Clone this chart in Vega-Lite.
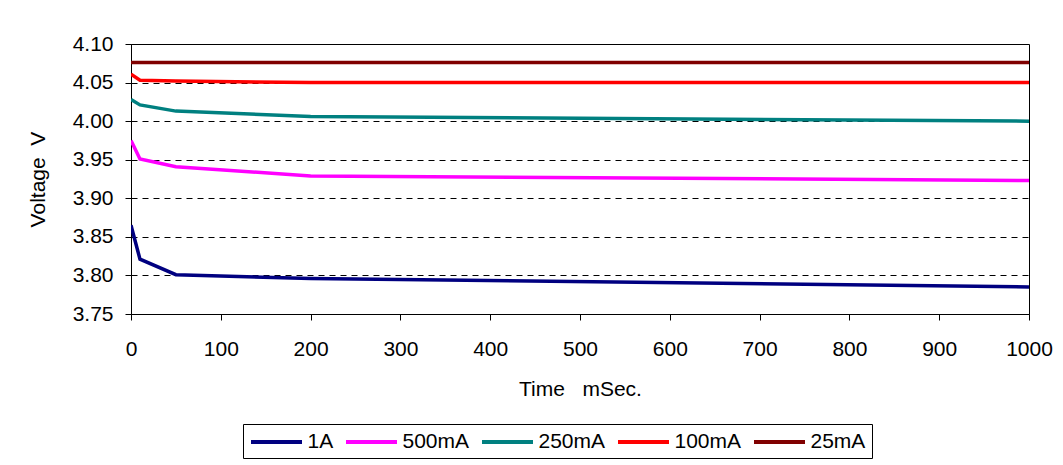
{
  "$schema": "https://vega.github.io/schema/vega-lite/v6.json",
  "width": 898,
  "height": 270,
  "autosize": {"type": "none"},
  "padding": {"left": 131, "top": 44, "right": 34, "bottom": 151},
  "background": "white",
  "config": {
    "font": "Liberation Sans",
    "view": {"stroke": "black", "strokeWidth": 1},
    "axis": {
      "labelFont": "Liberation Sans",
      "titleFont": "Liberation Sans",
      "labelFontSize": 21,
      "titleFontSize": 21,
      "titleFontWeight": "normal",
      "labelColor": "black",
      "titleColor": "black",
      "domainColor": "black",
      "tickColor": "black",
      "tickSize": 6,
      "labelFlush": false,
      "gridColor": "black",
      "gridDash": [6, 5],
      "gridWidth": 1,
      "gridOpacity": 1
    },
    "legend": {
      "labelFont": "Liberation Sans",
      "labelFontSize": 21,
      "labelColor": "black"
    }
  },
  "data": {
    "values": [
      {"series": "1A", "t": 0, "v": 3.865},
      {"series": "1A", "t": 10, "v": 3.821},
      {"series": "1A", "t": 50, "v": 3.801},
      {"series": "1A", "t": 200, "v": 3.796},
      {"series": "1A", "t": 1000, "v": 3.785},
      {"series": "500mA", "t": 0, "v": 3.975},
      {"series": "500mA", "t": 10, "v": 3.951},
      {"series": "500mA", "t": 50, "v": 3.941},
      {"series": "500mA", "t": 200, "v": 3.929},
      {"series": "500mA", "t": 1000, "v": 3.923},
      {"series": "250mA", "t": 0, "v": 4.028},
      {"series": "250mA", "t": 10, "v": 4.021},
      {"series": "250mA", "t": 50, "v": 4.013},
      {"series": "250mA", "t": 200, "v": 4.006},
      {"series": "250mA", "t": 1000, "v": 4.0},
      {"series": "100mA", "t": 0, "v": 4.061},
      {"series": "100mA", "t": 10, "v": 4.053},
      {"series": "100mA", "t": 50, "v": 4.052},
      {"series": "100mA", "t": 200, "v": 4.05},
      {"series": "100mA", "t": 1000, "v": 4.05},
      {"series": "25mA", "t": 0, "v": 4.076},
      {"series": "25mA", "t": 10, "v": 4.076},
      {"series": "25mA", "t": 50, "v": 4.076},
      {"series": "25mA", "t": 200, "v": 4.076},
      {"series": "25mA", "t": 1000, "v": 4.076}
    ]
  },
  "mark": {"type": "line", "strokeWidth": 3.5, "clip": true},
  "encoding": {
    "x": {
      "field": "t",
      "type": "quantitative",
      "scale": {"domain": [0, 1000], "nice": false, "zero": false},
      "axis": {
        "values": [0, 100, 200, 300, 400, 500, 600, 700, 800, 900, 1000],
        "format": "d",
        "grid": false,
        "labelPadding": 18,
        "titlePadding": 19,
        "title": "Time\u00a0\u00a0\u00a0mSec."
      }
    },
    "y": {
      "field": "v",
      "type": "quantitative",
      "scale": {"domain": [3.75, 4.1], "nice": false, "zero": false},
      "axis": {
        "values": [3.75, 3.8, 3.85, 3.9, 3.95, 4.0, 4.05, 4.1],
        "format": ".2f",
        "grid": true,
        "labelPadding": 12,
        "titlePadding": 24,
        "title": "Voltage\u00a0\u00a0V"
      }
    },
    "color": {
      "field": "series",
      "type": "nominal",
      "scale": {
        "domain": ["1A", "500mA", "250mA", "100mA", "25mA"],
        "range": ["#000080", "#FF00FF", "#008080", "#FF0000", "#800000"]
      },
      "legend": {
        "title": null,
        "orient": "none",
        "direction": "horizontal",
        "legendX": 112,
        "legendY": 380,
        "symbolType": "M-2.55,0H2.55",
        "symbolSize": 400,
        "symbolStrokeWidth": 4,
        "symbolOffset": 15.5,
        "labelOffset": 19,
        "columnPadding": 4,
        "strokeColor": "black",
        "padding": 6,
        "fillColor": "white"
      }
    }
  }
}
